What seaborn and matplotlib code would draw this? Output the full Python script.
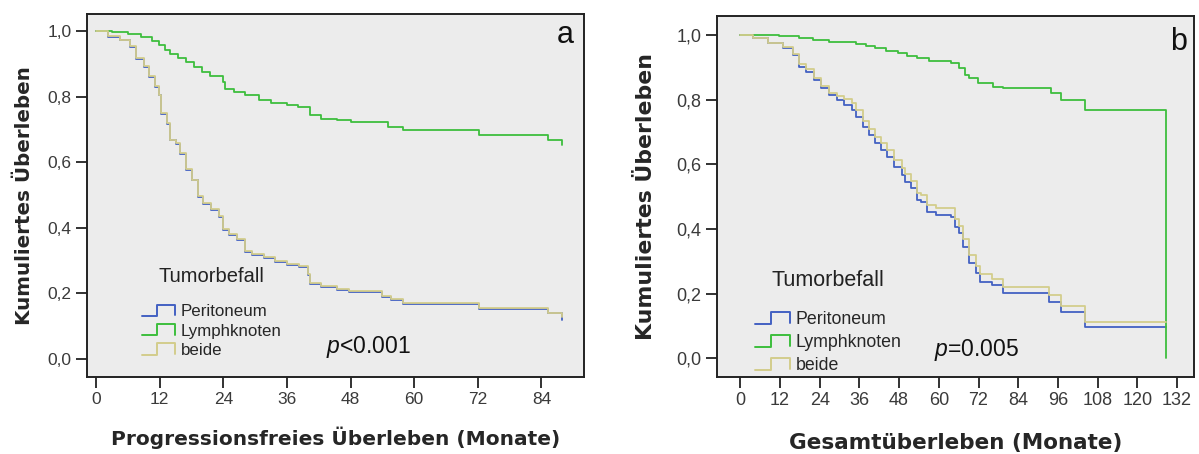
import pandas as pd
import matplotlib
matplotlib.use('Agg')
import matplotlib.pyplot as plt
import seaborn as sns
from matplotlib.legend_handler import HandlerBase
from matplotlib.lines import Line2D

# Gruppen und Farben
groups = ['Peritoneum', 'Lymphknoten', 'beide']
palette = {'Peritoneum': '#4361C2', 'Lymphknoten': '#3DBE3D', 'beide': '#D3CD8C'}

# a) Progressionsfreies Ueberleben (Monate, kumuliertes Ueberleben)
pfs_t_peri = [0, 2.3, 4.5, 6.4, 7.5, 9, 10, 11.1, 11.8, 12.2, 13.3, 14, 15.1, 15.9, 17, 18, 19.2, 20.2,
              21.7, 23.2, 23.9, 25, 26.5, 28, 29.4, 31.6, 33.8, 36, 38.2, 40, 40.4, 42.5, 45.5, 47.7,
              53.9, 55.7, 57.9, 72.2, 85.3, 87.9]
pfs_s_peri = [1.0, 0.982, 0.972, 0.951, 0.916, 0.89, 0.86, 0.829, 0.804, 0.748, 0.718, 0.667, 0.657,
              0.626, 0.576, 0.545, 0.494, 0.474, 0.454, 0.434, 0.393, 0.378, 0.362, 0.327, 0.317,
              0.307, 0.296, 0.286, 0.281, 0.256, 0.23, 0.22, 0.21, 0.205, 0.19, 0.18, 0.168, 0.154,
              0.139, 0.118]
pfs_t_lk = [0, 3, 6, 8.5, 10.5, 11.8, 13, 14, 15.5, 17, 18.5, 19.9, 21.5, 23.9, 24.3, 26, 28, 30.8,
            33, 36, 38, 40.3, 42.5, 45.5, 48, 55, 57.9, 72.2, 85.3, 87.9]
pfs_s_lk = [1.0, 0.996, 0.992, 0.982, 0.970, 0.956, 0.943, 0.931, 0.918, 0.906, 0.89, 0.875, 0.862,
            0.845, 0.824, 0.815, 0.804, 0.789, 0.781, 0.774, 0.769, 0.743, 0.733, 0.728, 0.723,
            0.708, 0.697, 0.682, 0.667, 0.652]
pfs_t_beide = [0, 2.3, 4.5, 6.4, 7.5, 9, 10, 11.1, 11.8, 12.2, 13.3, 14, 15.1, 15.9, 17, 18, 19.2,
               20.2, 21.7, 23.2, 23.9, 25, 26.5, 28, 29.4, 31.6, 33.8, 36, 38.2, 40, 40.4, 42.5,
               45.5, 47.7, 53.9, 55.7, 57.9, 72.2, 85.3, 87.9]
pfs_s_beide = [1.0, 0.984, 0.974, 0.953, 0.918, 0.892, 0.862, 0.831, 0.806, 0.75, 0.72, 0.669, 0.659,
               0.628, 0.578, 0.547, 0.497, 0.477, 0.457, 0.437, 0.396, 0.381, 0.365, 0.33, 0.32,
               0.31, 0.299, 0.289, 0.284, 0.259, 0.233, 0.223, 0.213, 0.208, 0.193, 0.183, 0.171,
               0.157, 0.142, 0.128]

# b) Gesamtueberleben (Monate, kumuliertes Ueberleben)
os_t_peri = [0, 3.7, 8.3, 12.9, 15.8, 17.6, 19.9, 22.2, 24.5, 26.8, 29.1, 31.4, 33.7, 34.9, 37.2,
             38.9, 40.7, 42.4, 44.2, 46.5, 48.8, 49.9, 51.7, 53.4, 54.6, 56.3, 59.2, 63.8, 65,
             66.1, 67.3, 69, 71.3, 72.5, 76, 79.4, 93.3, 96.8, 104.3, 128.6]
os_s_peri = [1.0, 0.99, 0.974, 0.959, 0.938, 0.902, 0.887, 0.861, 0.835, 0.814, 0.799, 0.784, 0.768,
             0.747, 0.716, 0.691, 0.665, 0.644, 0.624, 0.593, 0.567, 0.546, 0.526, 0.49, 0.485,
             0.454, 0.443, 0.438, 0.407, 0.387, 0.345, 0.294, 0.263, 0.237, 0.227, 0.201, 0.175,
             0.144, 0.098, 0.098]
os_t_lk = [0, 11.8, 17.6, 22, 26.8, 34.9, 38, 40.7, 44, 47.6, 50.5, 53.4, 56.9, 63.8, 66.1, 67.9,
           69, 71.9, 76.5, 79.4, 93.8, 96.8, 104.3, 128.6, 128.6]
os_s_lk = [1.0, 0.997, 0.99, 0.985, 0.979, 0.972, 0.966, 0.959, 0.951, 0.943, 0.936, 0.928, 0.918,
           0.912, 0.897, 0.876, 0.866, 0.851, 0.84, 0.835, 0.82, 0.799, 0.768, 0.768, 0.0]
os_t_beide = [0, 3.7, 8.3, 12.9, 15.8, 17.6, 19.9, 22.2, 24.5, 26.8, 29.1, 31.4, 33.7, 34.9, 37.2,
              38.9, 40.7, 42.4, 44.2, 46.5, 48.8, 49.9, 51.7, 53.4, 54.6, 56.3, 59.2, 63.8, 65,
              66.1, 67.3, 69, 71.3, 72.5, 76, 79.4, 93.3, 96.8, 104.3, 128.6]
os_s_beide = [1.0, 0.99, 0.976, 0.962, 0.942, 0.91, 0.895, 0.868, 0.842, 0.822, 0.812, 0.802, 0.79,
              0.768, 0.735, 0.71, 0.685, 0.665, 0.645, 0.613, 0.59, 0.57, 0.548, 0.51, 0.505,
              0.475, 0.465, 0.465, 0.432, 0.41, 0.37, 0.32, 0.285, 0.262, 0.247, 0.222, 0.196,
              0.162, 0.113, 0.113]

ytick_vals = [0.0, 0.2, 0.4, 0.6, 0.8, 1.0]
ytick_labels = ['0,0', '0,2', '0,4', '0,6', '0,8', '1,0']
pfs_xticks = [0, 12, 24, 36, 48, 60, 72, 84]
os_xticks = [0, 12, 24, 36, 48, 60, 72, 84, 96, 108, 120, 132]


def make_df(t_lists, s_lists):
    frames = []
    for g, t, s in zip(groups, t_lists, s_lists):
        frames.append(pd.DataFrame({'Monate': t, 'Ueberleben': s, 'Tumorbefall': g}))
    return pd.concat(frames, ignore_index=True)


pfs = make_df([pfs_t_peri, pfs_t_lk, pfs_t_beide], [pfs_s_peri, pfs_s_lk, pfs_s_beide])
os_df = make_df([os_t_peri, os_t_lk, os_t_beide], [os_s_peri, os_s_lk, os_s_beide])


# Legendensymbol als kleine Treppenstufe (wie in SPSS)
class StepHandler(HandlerBase):
    def create_artists(self, legend, orig_handle, xdescent, ydescent, width, height, fontsize, trans):
        x0, y0 = -xdescent, -ydescent
        xs = [x0, x0 + 0.45 * width, x0 + 0.45 * width, x0 + width, x0 + width]
        ys = [y0 + 0.1 * height, y0 + 0.1 * height, y0 + 0.9 * height, y0 + 0.9 * height, y0 + 0.15 * height]
        line = Line2D(xs, ys, color=orig_handle.get_color(), lw=1.4)
        line.set_transform(trans)
        return [line]


sns.set_style("ticks")
plt.rcParams['font.family'] = ['Liberation Sans', 'DejaVu Sans']
plt.rcParams['mathtext.fontset'] = 'custom'
plt.rcParams['mathtext.it'] = 'Liberation Sans:italic'
plt.rcParams['mathtext.rm'] = 'Liberation Sans'

fig = plt.figure(figsize=(11.99, 4.54), dpi=100)
ax1 = fig.add_axes([0.0724, 0.170, 0.415, 0.800])
ax2 = fig.add_axes([0.598, 0.170, 0.398, 0.795])

# Layout je Panel: Achsen, Grenzen, Texte und Schriftgroessen
panels = [
    dict(ax=ax1, df=pfs, xticks=pfs_xticks, xlim=(-1.75, 92.1), ylim=(-0.054, 1.053),
         xlabel='Progressionsfreies Überleben (Monate)', letter='a', letter_pos=(0.962, 0.94),
         ptxt='<0.001', p_pos=(0.48, 0.083), title_pos=(0.145, 0.275), leg_pos=(0.11, 0.202),
         tick_fs=12.5, lab_fs=14.5, ylab_fs=14.3, ylabpad=10, xlabpad=14, title_fs=14.5,
         leg_fs=12.2, leg_sp=0.2),
    dict(ax=ax2, df=os_df, xticks=os_xticks, xlim=(-7.05, 137.2), ylim=(-0.057, 1.059),
         xlabel='Gesamtüberleben (Monate)', letter='b', letter_pos=(0.968, 0.929),
         ptxt='=0.005', p_pos=(0.455, 0.074), title_pos=(0.115, 0.268), leg_pos=(0.079, 0.183),
         tick_fs=13, lab_fs=15.5, ylab_fs=15.8, ylabpad=15, xlabpad=17, title_fs=15.5,
         leg_fs=12.8, leg_sp=0.3),
]

for p in panels:
    ax = p['ax']
    ax.set_facecolor('#ECECEC')
    sns.lineplot(data=p['df'], x='Monate', y='Ueberleben', hue='Tumorbefall', hue_order=groups,
                 palette=palette, drawstyle='steps-post', estimator=None, sort=False,
                 linewidth=1.3, legend=False, ax=ax)
    ax.set_xlim(*p['xlim'])
    ax.set_ylim(*p['ylim'])
    ax.set_xticks(p['xticks'])
    ax.set_xticklabels([str(x) for x in p['xticks']])
    ax.set_yticks(ytick_vals)
    ax.set_yticklabels(ytick_labels)
    ax.tick_params(direction='out', length=8, width=1.3, color='#222222', labelcolor='#3a3a3a',
                   labelsize=p['tick_fs'], pad=3)
    for sp in ax.spines.values():
        sp.set_color('#222222')
        sp.set_linewidth(1.4)
    ax.set_xlabel(p['xlabel'], fontsize=p['lab_fs'], fontweight='bold', family='DejaVu Sans',
                  labelpad=p['xlabpad'])
    ax.set_ylabel('Kumuliertes Überleben', fontsize=p['ylab_fs'], fontweight='bold',
                  family='DejaVu Sans', labelpad=p['ylabpad'])
    ax.text(p['letter_pos'][0], p['letter_pos'][1], p['letter'], transform=ax.transAxes,
            fontsize=22, ha='center', va='center', color='#111111')
    ax.text(p['p_pos'][0], p['p_pos'][1], r'$\it{p}$' + p['ptxt'], transform=ax.transAxes,
            fontsize=16.5, ha='left', va='center', color='#111111')
    ax.text(p['title_pos'][0], p['title_pos'][1], 'Tumorbefall', transform=ax.transAxes,
            fontsize=p['title_fs'], ha='left', va='center', color='#222222')
    handles = [Line2D([], [], color=palette[g]) for g in groups]
    ax.legend(handles, groups, handler_map={Line2D: StepHandler()}, frameon=False,
              loc='upper left', bbox_to_anchor=p['leg_pos'], handlelength=2.0, handleheight=0.9,
              handletextpad=0.3, labelspacing=p['leg_sp'], fontsize=p['leg_fs'], borderpad=0,
              borderaxespad=0)

fig.savefig('out.png', dpi=100)
